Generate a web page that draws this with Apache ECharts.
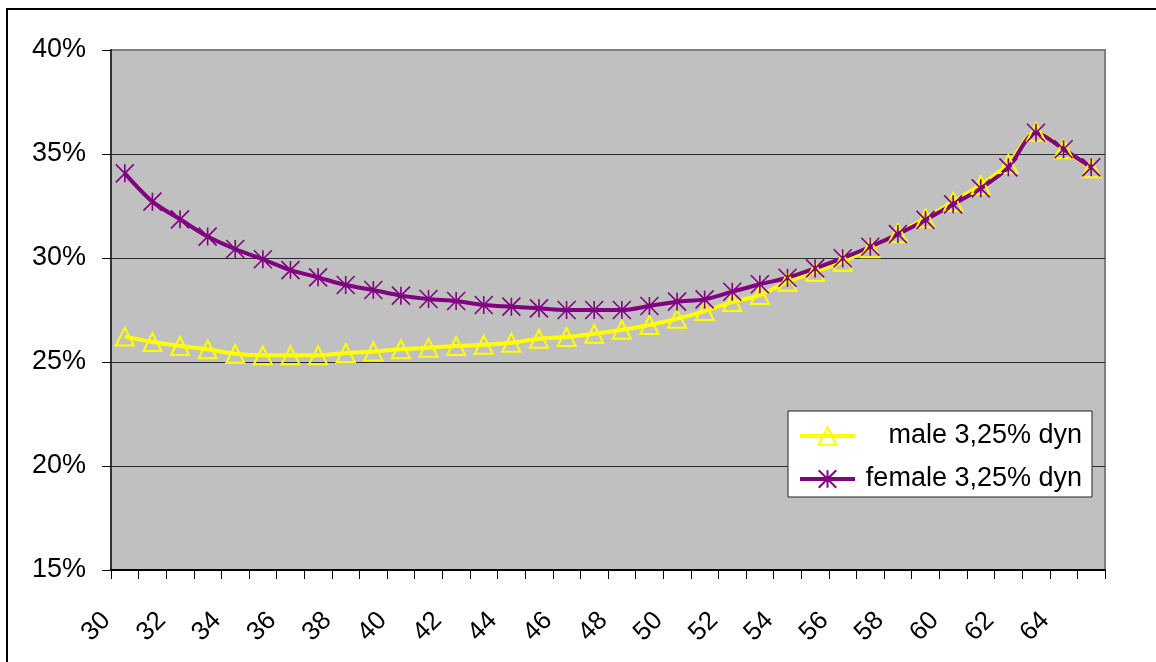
<!DOCTYPE html>
<html>
<head>
<meta charset="utf-8">
<script src="https://cdn.jsdelivr.net/npm/echarts@6/dist/echarts.min.js"></script>
<style>
html,body{margin:0;padding:0;background:#fff;}
#chart{width:1156px;height:662px;}
</style>
</head>
<body>
<div id="chart"></div>
<script>
var categories = ['30','31','32','33','34','35','36','37','38','39','40','41','42','43','44','45','46','47','48','49','50','51','52','53','54','55','56','57','58','59','60','61','62','63','64','65'];
var maleName = 'male 3,25% dyn';
var femaleName = 'female 3,25% dyn';
var maleValues = [26.22,25.96,25.77,25.61,25.40,25.32,25.32,25.32,25.43,25.51,25.61,25.69,
                  25.77,25.83,25.93,26.12,26.20,26.36,26.55,26.78,27.08,27.45,27.88,28.22,
                  28.86,29.34,29.82,30.47,31.19,31.91,32.71,33.51,34.52,36.07,35.23,34.31];
var femaleValues = [34.07,32.71,31.86,31.03,30.43,29.94,29.42,29.07,28.70,28.46,28.19,28.03,
                    27.93,27.74,27.66,27.58,27.50,27.50,27.50,27.69,27.90,28.01,28.38,28.74,
                    29.05,29.50,29.99,30.54,31.15,31.83,32.58,33.35,34.36,36.02,35.23,34.36];
var yMin = 15, yMax = 40, yStep = 5;

var FONT = '"Liberation Sans", Arial, sans-serif';
var chart = echarts.init(document.getElementById('chart'), null, {renderer: 'canvas'});
chart.setOption({
  animation: false,
  backgroundColor: '#ffffff',
  textStyle: {fontFamily: FONT},
  graphic: [{
    type: 'rect', z: 0, silent: true,
    shape: {x: 7, y: 9, width: 1200, height: 700},
    style: {fill: null, stroke: '#000', lineWidth: 2}
  }],
  grid: {
    left: 111, right: 51, top: 50, bottom: 92,
    show: true, backgroundColor: '#C0C0C0', borderColor: '#808080', borderWidth: 2
  },
  legend: {
    orient: 'vertical',
    left: 788, top: 411,
    padding: [10, 10, 3, 10],
    backgroundColor: '#ffffff',
    borderColor: '#222',
    borderWidth: 1,
    itemWidth: 55,
    itemHeight: 22,
    itemGap: 13,
    selectedMode: false,
    lineStyle: {width: 4},
    data: [maleName, femaleName],
    formatter: function (n) { return '{a|' + n + '}'; },
    textStyle: {
      fontSize: 27, lineHeight: 30, color: '#000', fontFamily: FONT,
      rich: {a: {width: 222, height: 30, align: 'right', fontSize: 27, lineHeight: 30, color: '#000', fontFamily: FONT}}
    }
  },
  xAxis: {
    type: 'category',
    data: categories,
    boundaryGap: true,
    axisLine: {lineStyle: {color: '#000', width: 2}},
    axisTick: {show: true, interval: 0, length: 9, lineStyle: {color: '#000', width: 1}},
    axisLabel: {
      interval: 1, rotate: 45, margin: 28, fontSize: 26, color: '#000',
      fontFamily: FONT, padding: [0, 26, 0, 0]
    },
    splitLine: {show: false}
  },
  yAxis: {
    type: 'value',
    min: yMin, max: yMax, interval: yStep,
    axisLine: {show: true, lineStyle: {color: '#333', width: 2}},
    axisTick: {show: true, length: 9, lineStyle: {color: '#000', width: 1}},
    axisLabel: {
      margin: 25, fontSize: 27, color: '#000', fontFamily: FONT,
      formatter: function (v) { return v + '%'; }
    },
    splitLine: {show: true, showMaxLine: false, lineStyle: {color: '#2a2a2a', width: 1}}
  },
  series: [{
    name: maleName,
    type: 'line',
    data: maleValues,
    smooth: 0.3,
    symbol: 'triangle',
    symbolSize: 18,
    showAllSymbol: true,
    lineStyle: {color: '#FFFF00', width: 4},
    itemStyle: {color: 'rgba(0,0,0,0)', borderColor: '#FFFF00', borderWidth: 2}
  }, {
    name: femaleName,
    type: 'line',
    data: femaleValues,
    smooth: 0.3,
    symbol: 'path://M0,0L10,10M10,0L0,10M5,0L5,10',
    symbolSize: 18,
    showAllSymbol: true,
    lineStyle: {color: '#800080', width: 4},
    itemStyle: {color: '#800080', borderColor: '#800080', borderWidth: 1.6}
  }]
});
</script>
</body>
</html>
